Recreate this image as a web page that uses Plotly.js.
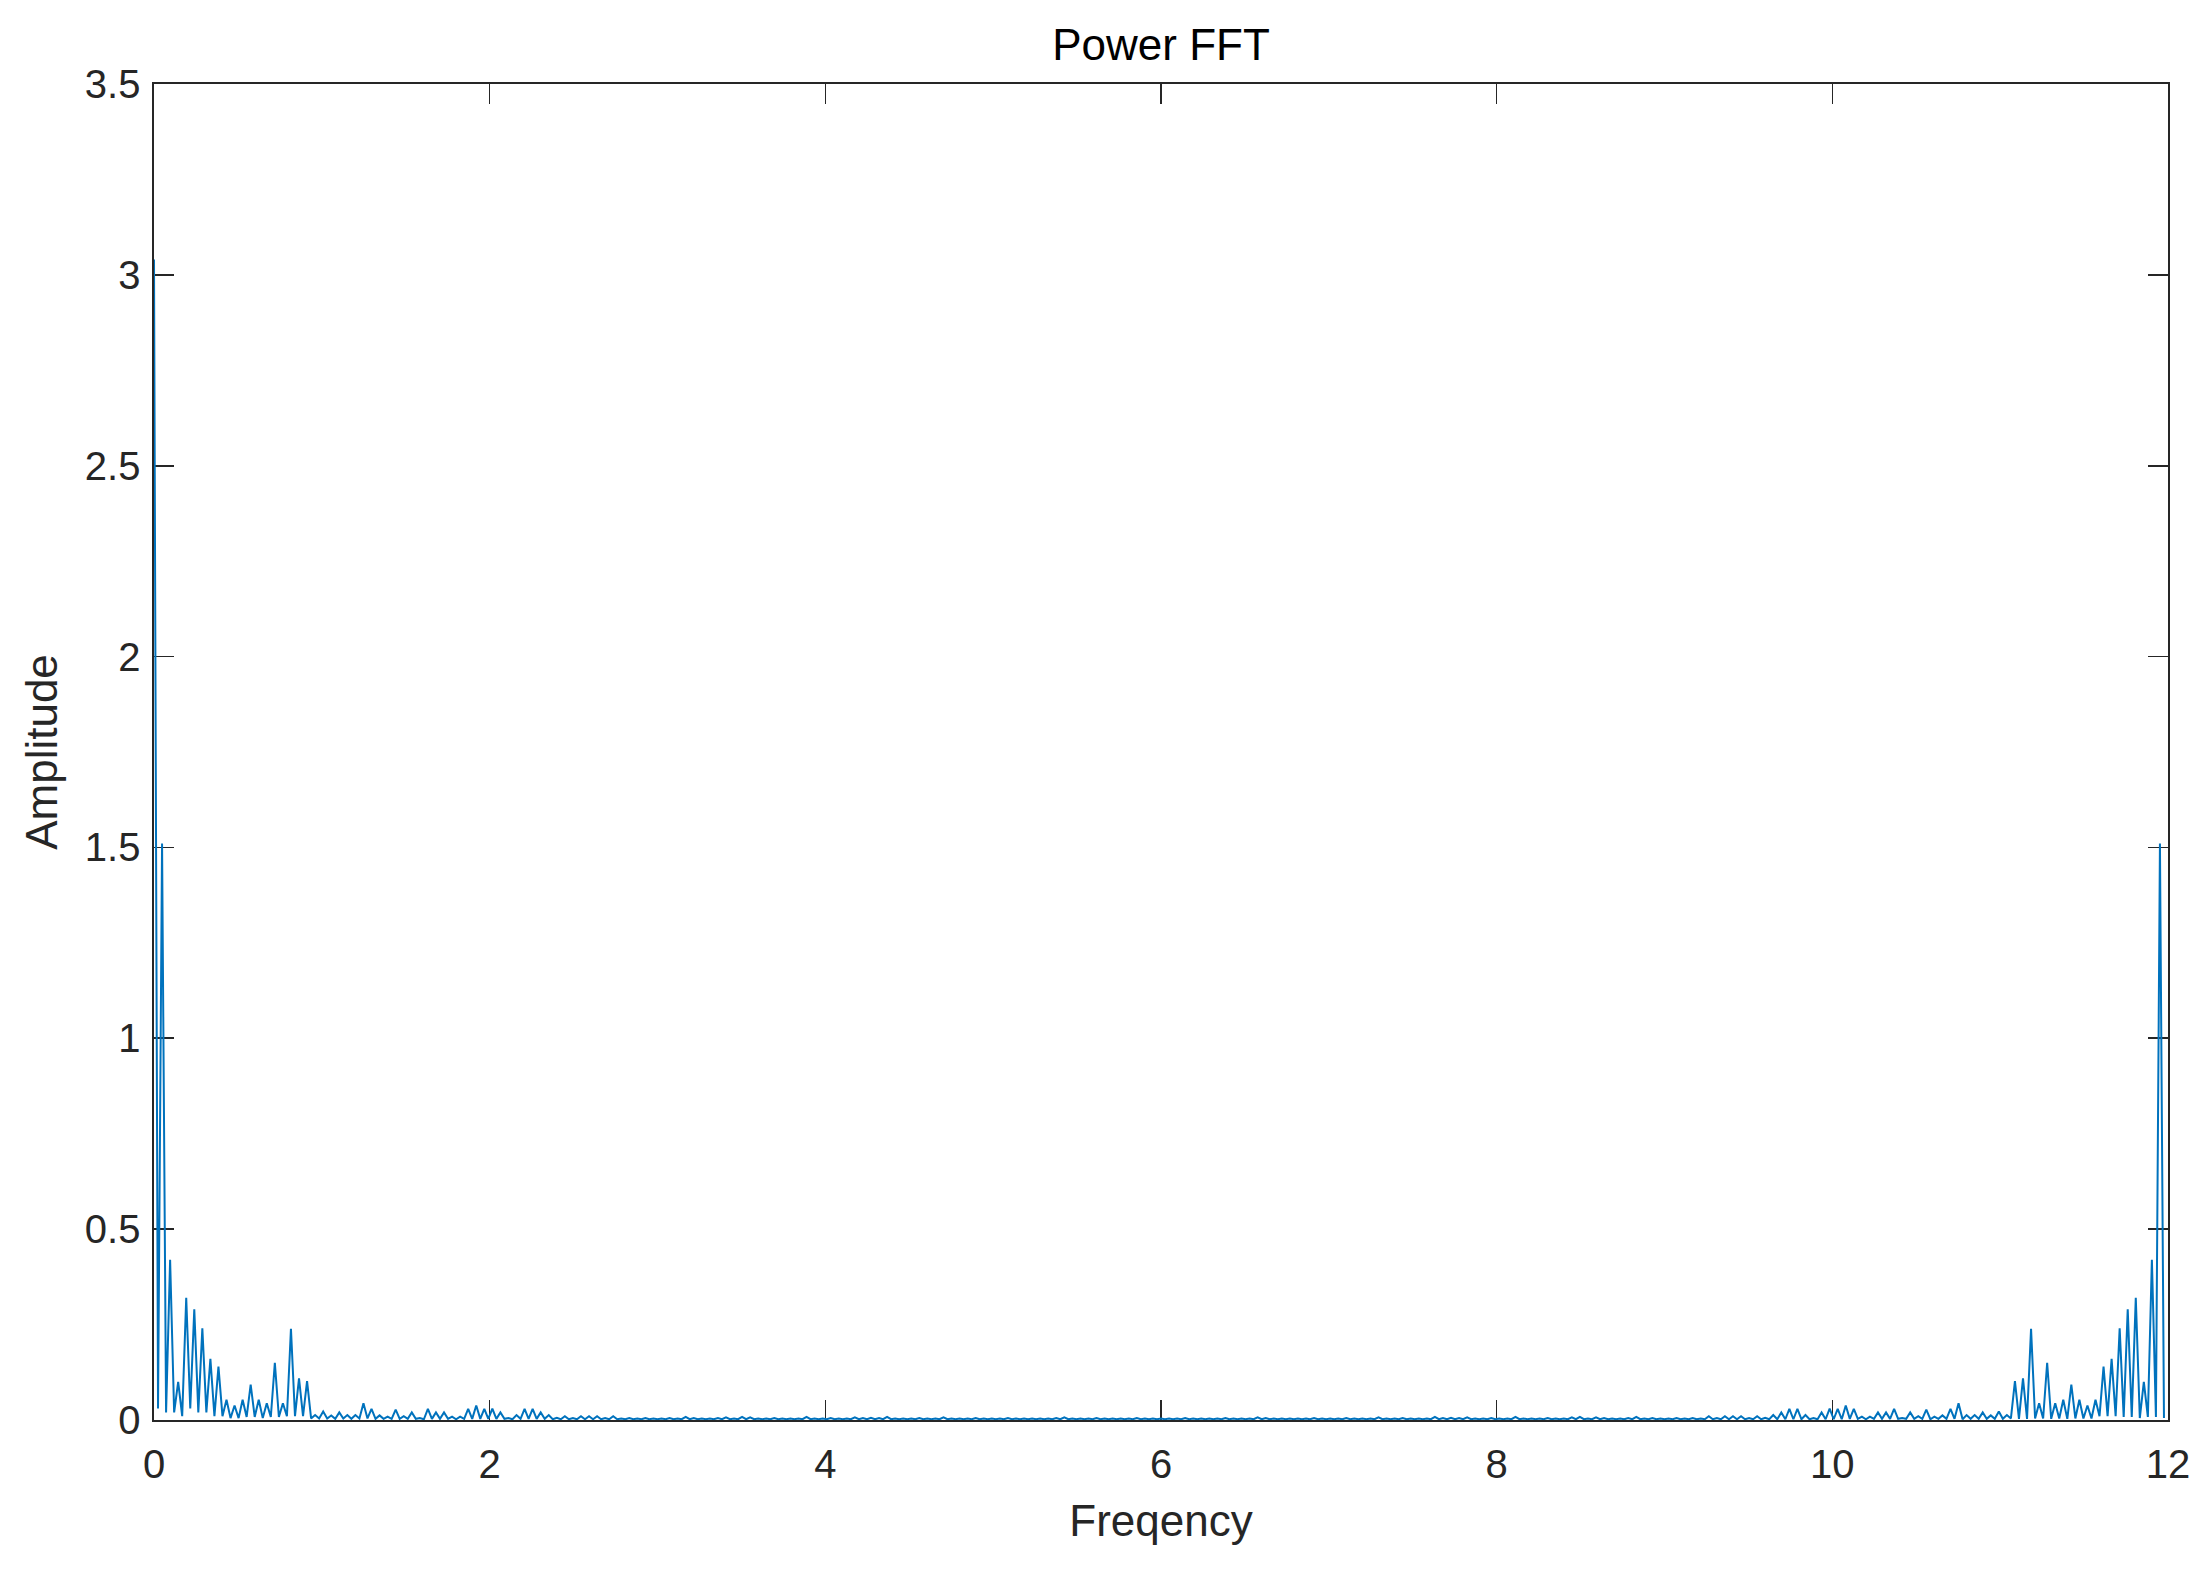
<!DOCTYPE html>
<html>
<head>
<meta charset="utf-8">
<script src="https://cdn.plot.ly/plotly-3.0.1.min.js"></script>
<style>
  html, body { margin: 0; padding: 0; background: #ffffff; }
  #chart { width: 2206px; height: 1570px; }
</style>
</head>
<body>
<div id="chart"></div>
<script>
// Frequency bin spacing (cycles per unit)
const binStep = 0.048;

// Peak amplitude at each frequency bin k = 0..125 (0 to 6.0)
const peakAmpLow = [
  3.04, 1.51, 0.42, 0.10, 0.32, 0.29, 0.24, 0.16, 0.14, 0.053,
  0.038, 0.053, 0.093, 0.053, 0.044, 0.150, 0.044, 0.239, 0.109, 0.102,
  0.013, 0.022, 0.012, 0.020, 0.013, 0.013, 0.044, 0.029, 0.012, 0.009,
  0.027, 0.010, 0.020, 0.005, 0.029, 0.020, 0.020, 0.009, 0.009, 0.029,
  0.038, 0.029, 0.030, 0.020, 0.005, 0.013, 0.029, 0.029, 0.020, 0.013,
  0.006, 0.010, 0.005, 0.010, 0.010, 0.010, 0.005, 0.010, 0.004, 0.005,
  0.004, 0.005, 0.004, 0.004, 0.005, 0.004, 0.008, 0.005, 0.004, 0.004,
  0.005, 0.007, 0.004, 0.008, 0.007, 0.004, 0.004, 0.005, 0.004, 0.004,
  0.004, 0.008, 0.004, 0.004, 0.005, 0.004, 0.004, 0.007, 0.005, 0.006,
  0.005, 0.008, 0.004, 0.004, 0.004, 0.005, 0.004, 0.004, 0.007, 0.004,
  0.004, 0.004, 0.005, 0.004, 0.004, 0.004, 0.005, 0.004, 0.004, 0.004,
  0.004, 0.004, 0.005, 0.007, 0.004, 0.004, 0.004, 0.005, 0.004, 0.004,
  0.004, 0.004, 0.005, 0.004, 0.004, 0.004
];

// Peak amplitude at each frequency bin k = 126..249 (6.05 to 11.95)
const peakAmpHigh = [
  0.004, 0.004, 0.005, 0.004, 0.004,
  0.004, 0.004, 0.005, 0.004, 0.004, 0.004, 0.007, 0.005, 0.004, 0.004,
  0.004, 0.004, 0.004, 0.005, 0.004, 0.004, 0.004, 0.005, 0.004, 0.004,
  0.004, 0.007, 0.004, 0.004, 0.005, 0.004, 0.004, 0.004, 0.008, 0.005,
  0.006, 0.005, 0.007, 0.004, 0.004, 0.005, 0.004, 0.004, 0.008, 0.004,
  0.004, 0.004, 0.005, 0.004, 0.004, 0.007, 0.008, 0.004, 0.007, 0.005,
  0.004, 0.004, 0.005, 0.008, 0.004, 0.005, 0.004, 0.004, 0.005, 0.004,
  0.005, 0.004, 0.010, 0.005, 0.010, 0.010, 0.010, 0.005, 0.010, 0.006,
  0.013, 0.020, 0.029, 0.029, 0.013, 0.005, 0.020, 0.030, 0.029, 0.038,
  0.029, 0.009, 0.009, 0.020, 0.020, 0.029, 0.005, 0.020, 0.010, 0.027,
  0.009, 0.012, 0.029, 0.044, 0.013, 0.013, 0.020, 0.012, 0.022, 0.013,
  0.102, 0.109, 0.239, 0.044, 0.150, 0.044, 0.053, 0.093, 0.053, 0.038,
  0.053, 0.14, 0.16, 0.24, 0.29, 0.32, 0.10, 0.42, 1.51
];

// Low points of the trace half way between bins (k + 0.5), k = 0..124
const troughAmpLow = [
  0.030, 0.020, 0.020, 0.010, 0.030, 0.020, 0.020, 0.010, 0.010, 0.005,
  0.005, 0.008, 0.008, 0.005, 0.008, 0.008, 0.010, 0.010, 0.010, 0.004,
  0.004, 0.004, 0.003, 0.004, 0.003, 0.004, 0.004, 0.003, 0.003, 0.003,
  0.003, 0.003, 0.003, 0.002, 0.003, 0.003, 0.003, 0.002, 0.003, 0.003,
  0.003, 0.003, 0.003, 0.003, 0.002, 0.003, 0.003, 0.003, 0.003, 0.002,
  0.002, 0.002, 0.002, 0.002, 0.002, 0.002, 0.002, 0.002, 0.002, 0.002,
  0.002, 0.002, 0.002, 0.002, 0.002, 0.002, 0.002, 0.002, 0.002, 0.002,
  0.002, 0.002, 0.002, 0.002, 0.002, 0.002, 0.002, 0.002, 0.002, 0.002,
  0.002, 0.002, 0.002, 0.002, 0.002, 0.002, 0.002, 0.002, 0.002, 0.002,
  0.002, 0.002, 0.002, 0.002, 0.002, 0.002, 0.002, 0.002, 0.002, 0.002,
  0.002, 0.002, 0.002, 0.002, 0.002, 0.002, 0.002, 0.002, 0.002, 0.002,
  0.002, 0.002, 0.002, 0.002, 0.002, 0.002, 0.002, 0.002, 0.002, 0.002,
  0.002, 0.002, 0.002, 0.002, 0.002
];

// Low points of the trace half way between bins (k + 0.5), k = 125..249
const troughAmpHigh = [
  0.002, 0.002, 0.002, 0.002, 0.002,
  0.002, 0.002, 0.002, 0.002, 0.002, 0.002, 0.002, 0.002, 0.002, 0.002,
  0.002, 0.002, 0.002, 0.002, 0.002, 0.002, 0.002, 0.002, 0.002, 0.002,
  0.002, 0.002, 0.002, 0.002, 0.002, 0.002, 0.002, 0.002, 0.002, 0.002,
  0.002, 0.002, 0.002, 0.002, 0.002, 0.002, 0.002, 0.002, 0.002, 0.002,
  0.002, 0.002, 0.002, 0.002, 0.002, 0.002, 0.002, 0.002, 0.002, 0.002,
  0.002, 0.002, 0.002, 0.002, 0.002, 0.002, 0.002, 0.002, 0.002, 0.002,
  0.002, 0.002, 0.002, 0.002, 0.002, 0.002, 0.002, 0.002, 0.002, 0.002,
  0.002, 0.002, 0.002, 0.002, 0.002, 0.002, 0.002, 0.002, 0.002, 0.002,
  0.003, 0.003, 0.002, 0.003, 0.003, 0.003, 0.003, 0.003, 0.003, 0.003,
  0.002, 0.003, 0.003, 0.003, 0.002, 0.003, 0.003, 0.003, 0.003, 0.003,
  0.004, 0.003, 0.003, 0.004, 0.004, 0.003, 0.004, 0.003, 0.004, 0.004,
  0.004, 0.010, 0.010, 0.010, 0.008, 0.008, 0.005, 0.008, 0.008, 0.005,
  0.005, 0.010, 0.010, 0.020, 0.020, 0.030, 0.010, 0.020, 0.020, 0.030
];

const titleText = 'Power FFT';
const xTitleText = 'Freqency';
const yTitleText = 'Amplitude';
const xTickVals = [0, 2, 4, 6, 8, 10, 12];
const yTickVals = [0, 0.5, 1, 1.5, 2, 2.5, 3, 3.5];

// Build the trace: bin peak, then the low point half a bin later
const peaks = peakAmpLow.concat(peakAmpHigh);
const troughs = troughAmpLow.concat(troughAmpHigh);
const xs = [], ys = [];
for (let k = 0; k < peaks.length; k++) {
  xs.push(k * binStep);
  ys.push(peaks[k]);
  xs.push((k + 0.5) * binStep);
  ys.push(troughs[k]);
}

const FONT = 'Liberation Sans, Arial, Helvetica, sans-serif';
const AX = '#262626';

const trace = {
  type: 'scatter',
  mode: 'lines',
  x: xs,
  y: ys,
  line: { color: '#0072BD', width: 2 },
  cliponaxis: false,
  hoverinfo: 'x+y'
};

const axisCommon = {
  showline: true,
  linecolor: AX,
  linewidth: 1.6,
  mirror: 'ticks',
  ticks: 'inside',
  ticklen: 20,
  tickwidth: 1.6,
  tickcolor: AX,
  showgrid: false,
  zeroline: false,
  layer: 'below traces',
  tickfont: { family: FONT, size: 40, color: AX },
  automargin: false
};

const layout = {
  width: 2206,
  height: 1570,
  paper_bgcolor: '#ffffff',
  plot_bgcolor: '#ffffff',
  margin: { l: 154, r: 38, t: 84, b: 150, pad: 0 },
  showlegend: false,
  title: {
    text: titleText,
    font: { family: FONT, size: 44, color: '#000000' },
    x: 0.5, xref: 'paper', xanchor: 'center',
    y: 1 - 45 / 1570, yref: 'container', yanchor: 'middle'
  },
  xaxis: Object.assign({}, axisCommon, {
    range: [0, 12],
    tickvals: xTickVals,
    ticktext: xTickVals.map(String),
    ticklabelstandoff: 8,
    title: { text: xTitleText, font: { family: FONT, size: 44, color: AX }, standoff: 20 }
  }),
  yaxis: Object.assign({}, axisCommon, {
    range: [0, 3.5],
    tickvals: yTickVals,
    ticktext: yTickVals.map(String),
    ticklabelstandoff: 4,
    title: { text: yTitleText, font: { family: FONT, size: 44, color: AX }, standoff: 13 }
  })
};

Plotly.newPlot('chart', [trace], layout, { displayModeBar: false, staticPlot: true });
</script>
</body>
</html>
